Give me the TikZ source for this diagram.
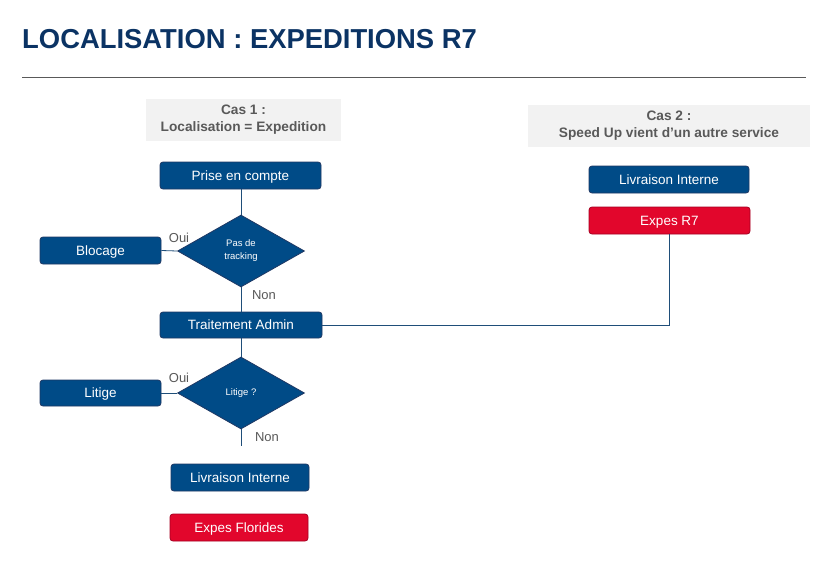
\documentclass[tikz,border=0pt]{standalone}
\usepackage{fontspec}
\setmainfont{Liberation Sans}
\usetikzlibrary{shapes.geometric}
\definecolor{navy}{HTML}{0B3364}
\definecolor{boxblue}{HTML}{004B87}
\definecolor{boxblueedge}{HTML}{1F3864}
\definecolor{boxred}{HTML}{E2062C}
\definecolor{boxrededge}{HTML}{A50021}
\definecolor{labgray}{HTML}{595959}
\definecolor{casegray}{HTML}{F2F2F2}
\definecolor{linecol}{HTML}{1F4E79}
\tikzset{
  bluebox/.style={draw=boxblueedge, fill=boxblue, rounded corners=3pt, line width=0.8pt,
    text=white, font=\fontsize{13.5}{15}\selectfont, inner sep=0pt, text depth=0pt},
  redbox/.style={draw=boxrededge, fill=boxred, rounded corners=3pt, line width=0.8pt,
    text=white, font=\fontsize{13.5}{15}\selectfont, inner sep=0pt, text depth=0pt},
  decision/.style={diamond, draw=boxblueedge, fill=boxblue, line width=0.8pt, inner sep=0pt,
    minimum width=127pt, minimum height=72pt, text=white, align=center,
    font=\fontsize{9.5}{13}\selectfont},
  casebox/.style={fill=casegray, text=labgray, align=center, inner sep=0pt,
    font=\bfseries\fontsize{13.7}{17}\selectfont},
  ynlabel/.style={text=labgray, font=\fontsize{13}{15}\selectfont, inner sep=0pt},
  conn/.style={draw=linecol, line width=0.8pt}
}
\begin{document}
\begin{tikzpicture}[x=1pt,y=-1pt]
\useasboundingbox (0,0) rectangle (825,562);
\fill[white] (0,0) rectangle (825,562);
% title
\node[anchor=base west, inner sep=0pt, text=navy, font=\bfseries\fontsize{27.4}{30}\selectfont] (title) at (22,48) {LOCALISATION : EXPEDITIONS R7};
\coordinate (rl) at (22,77);
\coordinate (rr) at (806,77);
\draw[draw=labgray, line width=0.8pt] (rl) -- (rr);
% case boxes
\node[casebox, minimum width=195pt, minimum height=42pt] (cas1) at (243.5,120) {Cas 1 :\\Localisation = Expedition};
\node[casebox, minimum width=282pt, minimum height=42pt] (cas2) at (669,126) {Cas 2 :\\Speed Up vient d’un autre service};
% case 1 flow
\node[bluebox, minimum width=161pt, minimum height=27pt] (prise) at (240.5,175.5) {Prise en compte};
\node[decision] (d1) at (241,251) {Pas de\\tracking};
\node[bluebox, minimum width=121pt, minimum height=27pt] (blocage) at (100.5,250.5) {Blocage};
\node[bluebox, minimum width=162pt, minimum height=26pt] (trait) at (241,325) {Traitement Admin};
\node[decision] (d2) at (241,393) {Litige ?};
\node[bluebox, minimum width=121pt, minimum height=26pt] (litige) at (100.5,393) {Litige};
\node[bluebox, minimum width=138pt, minimum height=27pt] (livl) at (240,477.5) {Livraison Interne};
\node[redbox, minimum width=138pt, minimum height=27pt] (expf) at (239,527.5) {Expes Florides};
% case 2
\node[bluebox, minimum width=160pt, minimum height=27pt] (livr) at (669,179.5) {Livraison Interne};
\node[redbox, minimum width=161pt, minimum height=27pt] (expr) at (669.5,220.5) {Expes R7};
% connectors
\draw[conn] (prise.south -| d1.north) -- (d1.north);
\draw[conn] (blocage.east) -- (d1.west);
\draw[conn] (d1.south) -- (trait.north -| d1.south);
\draw[conn] (trait.south -| d2.north) -- (d2.north);
\draw[conn] (litige.east) -- (d2.west);
\coordinate (endnon) at (241,446);
\draw[conn] (d2.south) -- (endnon);
\draw[conn] (trait.east) -| (expr.south -| 669,0);
% labels
\node[ynlabel, anchor=base] (oui1) at (179,242) {Oui};
\node[ynlabel, anchor=base] (non1) at (264,299) {Non};
\node[ynlabel, anchor=base] (oui2) at (179,382) {Oui};
\node[ynlabel, anchor=base] (non2) at (267,441) {Non};
\end{tikzpicture}
\end{document}
